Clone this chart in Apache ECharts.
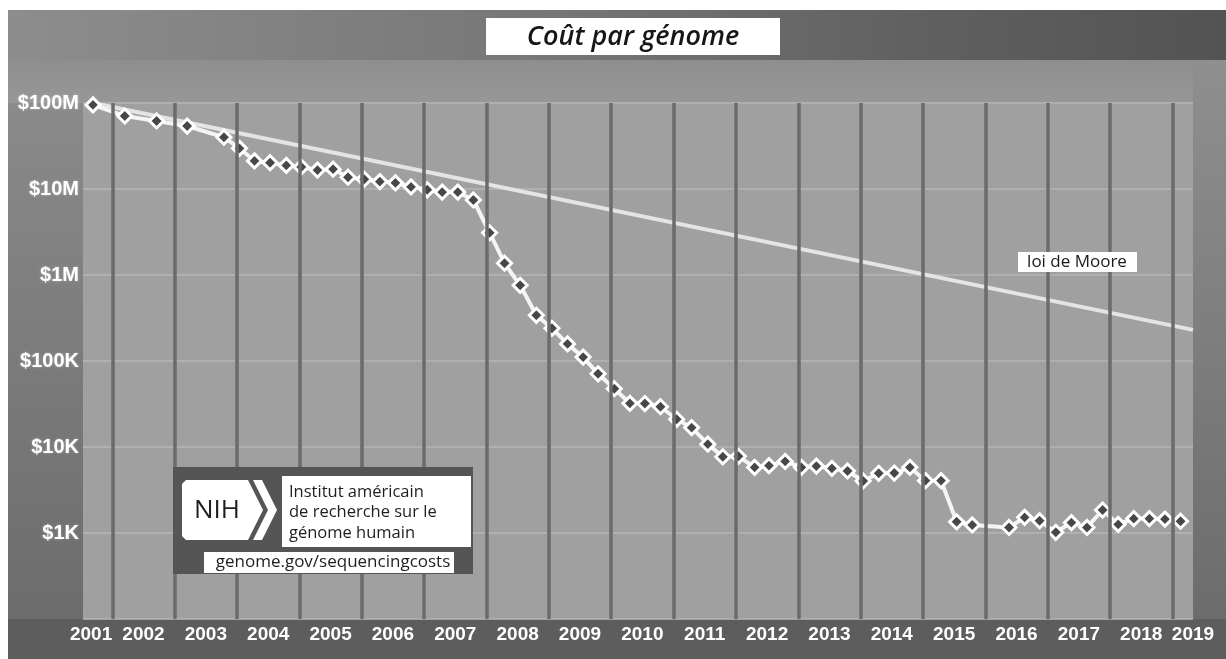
<!DOCTYPE html>
<html>
<head>
<meta charset="utf-8">
<script src="https://cdn.jsdelivr.net/npm/echarts@6/dist/echarts.min.js"></script>
<style>
  html, body { margin: 0; padding: 0; background: #fff; }
  #wrap { position: relative; width: 1226px; height: 659px; overflow: hidden; background: #fff; }
  .bg { position: absolute; }
  #chart { position: absolute; left: 0; top: 0; width: 1226px; height: 659px; }
</style>
</head>
<body>
<div id="wrap">
  <div class="bg" style="left:8px;top:10px;width:1218px;height:649px;background:#8c8c8c"></div>
  <div class="bg" style="left:8px;top:10px;width:1218px;height:50px;background:linear-gradient(to right,#8d8d8d 0%,#767676 45%,#606060 75%,#535353 100%)"></div>
  <div class="bg" style="left:8px;top:60px;width:1218px;height:43px;background:linear-gradient(to bottom,#8e8e8e,#979797)"></div>
  <div class="bg" style="left:8px;top:103px;width:75px;height:516px;background:linear-gradient(to bottom,#8a8a8a,#6c6c6c)"></div>
  <div class="bg" style="left:1193px;top:60px;width:33px;height:559px;background:linear-gradient(to bottom,#8f8f8f,#6c6c6c)"></div>
  <div class="bg" style="left:8px;top:619px;width:1218px;height:40px;background:#5d5d5d"></div>
  <div id="chart"></div>
</div>
<script>
// ---------------- data ----------------
const years = [2001,2002,2003,2004,2005,2006,2007,2008,2009,2010,2011,2012,2013,2014,2015,2016,2017,2018,2019];

const dates = [
  2001.69, 2002.20, 2002.71, 2003.20, 2003.79, 2004.04, 2004.28, 2004.53, 2004.79,
  2005.03, 2005.29, 2005.54, 2005.78, 2006.04, 2006.29, 2006.54, 2006.79,
  2007.05, 2007.29, 2007.54, 2007.79, 2008.05, 2008.29, 2008.54, 2008.80,
  2009.05, 2009.30, 2009.55, 2009.79, 2010.05, 2010.30, 2010.54, 2010.79,
  2011.05, 2011.29, 2011.55, 2011.79, 2012.04, 2012.30, 2012.53, 2012.79,
  2013.05, 2013.29, 2013.54, 2013.79, 2014.04, 2014.29, 2014.54, 2014.79,
  2015.04, 2015.29, 2015.54, 2015.79, 2016.38, 2016.63, 2016.87,
  2017.13, 2017.38, 2017.63, 2017.88, 2018.13, 2018.38, 2018.63, 2018.88, 2019.13
];

const costs = [
  95000000, 70600000, 61800000, 54000000, 40000000, 29700000, 21200000, 20200000, 18800000,
  18000000, 16600000, 17000000, 13700000, 13000000, 12200000, 11800000, 10600000,
  9800000, 9200000, 9200000, 7450000, 3100000, 1370000, 759000, 340000,
  240000, 158000, 111000, 71000, 47600, 32200, 32000, 29400,
  21000, 16800, 10800, 7700, 7800, 5800, 6070, 6800,
  5800, 6000, 5650, 5260, 4030, 4950, 4980, 5800,
  4060, 4060, 1350, 1240, 1160, 1520, 1390,
  1020, 1320, 1160, 1850, 1260, 1470, 1470, 1450, 1370
];

const mooreDates = [2001.69, 2019.33];
const mooreCosts = [100000000, 230000];

const yTickValues = [1000, 10000, 100000, 1000000, 10000000, 100000000];
const yTickLabels = ['$1K', '$10K', '$100K', '$1M', '$10M', '$100M'];

const titleText = 'Coût par génome';
const mooreText = 'loi de Moore';
const nihLogoText = 'NIH';
const nihLines = ['Institut américain', 'de recherche sur le', 'génome humain'];
const nihUrl = 'genome.gov/sequencingcosts';

// ---------------- chart ----------------
const xMin = 2001.53, xMax = 2019.33;
const labelPositions = years.map((y, i) =>
  i === 0 ? 2001.66 : (i === years.length - 1 ? xMax : y + 0.5));
const yearBoundaries = years.slice(1);

const chart = echarts.init(document.getElementById('chart'), null, { renderer: 'canvas' });

const FONT = '"Open Sans", Lato, sans-serif';
const Z = 100;

const option = {
  animation: false,
  backgroundColor: 'transparent',
  grid: {
    left: 83, right: 33, top: 103, bottom: 40,
    show: true, backgroundColor: '#a0a0a0', borderWidth: 0
  },
  xAxis: {
    type: 'value', min: xMin, max: xMax,
    axisLine: { show: false }, axisTick: { show: false }, splitLine: { show: false },
    axisLabel: {
      customValues: labelPositions,
      formatter: (v) => {
        const i = labelPositions.findIndex(p => Math.abs(p - v) < 1e-6);
        return i >= 0 ? String(years[i]) : '';
      },
      color: '#ffffff', fontFamily: '"Liberation Sans", Arial, sans-serif', fontWeight: 'bold', fontSize: 19,
      margin: 6, hideOverlap: false
    }
  },
  yAxis: {
    type: 'log', logBase: 10, min: 100, max: 100000000,
    axisLine: { show: false }, axisTick: { show: false },
    splitLine: { show: true, lineStyle: { color: '#b6b6b6', width: 1.5 } },
    axisLabel: {
      formatter: (v) => {
        const e = Math.round(Math.log10(v));
        const i = yTickValues.findIndex(t => Math.round(Math.log10(t)) === e);
        return i >= 0 ? yTickLabels[i] : '';
      },
      color: '#ffffff', fontFamily: '"Liberation Sans", Arial, sans-serif', fontWeight: 'bold', fontSize: 20,
      margin: 4,
      textShadowColor: 'rgba(255,255,255,0.35)', textShadowBlur: 3
    }
  },
  series: [
    {
      name: 'years', type: 'line', data: [], z: 1, silent: true,
      markLine: {
        silent: true, symbol: ['none', 'none'], label: { show: false },
        lineStyle: { color: '#6b6b6b', width: 3.5, type: 'solid' },
        emphasis: { disabled: true },
        data: yearBoundaries.map(y => ({ xAxis: y }))
      }
    },
    {
      name: 'Moore', type: 'line', z: 2, symbol: 'none', silent: true,
      data: mooreDates.map((d, i) => [d, mooreCosts[i]]),
      lineStyle: { color: '#e4e4e4', width: 4 }
    },
    {
      name: 'cost', type: 'line', z: 3, silent: true,
      data: dates.map((d, i) => [d, costs[i]]),
      symbol: 'diamond', symbolSize: 14,
      itemStyle: { color: '#474747', borderColor: '#ffffff', borderWidth: 3 },
      lineStyle: { color: '#f4f4f4', width: 4 }
    }
  ],
  graphic: [
    { type: 'rect', z: Z, shape: { x: 486, y: 18, width: 294, height: 37 }, style: { fill: '#ffffff' } },
    { type: 'text', z: Z, x: 633, y: 37, style: { text: titleText, fill: '#161616', font: 'italic 600 27px ' + FONT, align: 'center', verticalAlign: 'middle' } },
    { type: 'rect', z: Z, shape: { x: 1018, y: 252, width: 119, height: 20 }, style: { fill: '#ffffff' } },
    { type: 'text', z: Z, x: 1077, y: 262, style: { text: mooreText, fill: '#1a1a1a', font: '17px ' + FONT, align: 'center', verticalAlign: 'middle' } },
    { type: 'rect', z: Z, shape: { x: 173, y: 467, width: 300, height: 107 }, style: { fill: '#555555' } },
    { type: 'polygon', z: Z, shape: { points: [[186, 480], [248, 480], [263, 510], [248, 540], [186, 540], [182, 536], [182, 484]] }, style: { fill: '#ffffff' } },
    { type: 'polygon', z: Z, shape: { points: [[253, 480], [262, 480], [277, 510], [262, 540], [253, 540], [268, 510]] }, style: { fill: '#ffffff' } },
    { type: 'text', z: Z, x: 217, y: 511, style: { text: nihLogoText, fill: '#1e1e1e', font: '500 26px ' + FONT, align: 'center', verticalAlign: 'middle' } },
    { type: 'rect', z: Z, shape: { x: 282, y: 476, width: 189, height: 71 }, style: { fill: '#ffffff' } },
    { type: 'text', z: Z, x: 289, y: 492, style: { text: nihLines[0], fill: '#1e1e1e', font: '16.5px ' + FONT, verticalAlign: 'middle' } },
    { type: 'text', z: Z, x: 289, y: 512, style: { text: nihLines[1], fill: '#1e1e1e', font: '16.5px ' + FONT, verticalAlign: 'middle' } },
    { type: 'text', z: Z, x: 289, y: 533, style: { text: nihLines[2], fill: '#1e1e1e', font: '16.5px ' + FONT, verticalAlign: 'middle' } },
    { type: 'rect', z: Z, shape: { x: 204, y: 552, width: 250, height: 21 }, style: { fill: '#ffffff' } },
    { type: 'text', z: Z, x: 333, y: 562, style: { text: nihUrl, fill: '#1e1e1e', font: '17px ' + FONT, align: 'center', verticalAlign: 'middle' } }
  ]
};

chart.setOption(option);
</script>
</body>
</html>
